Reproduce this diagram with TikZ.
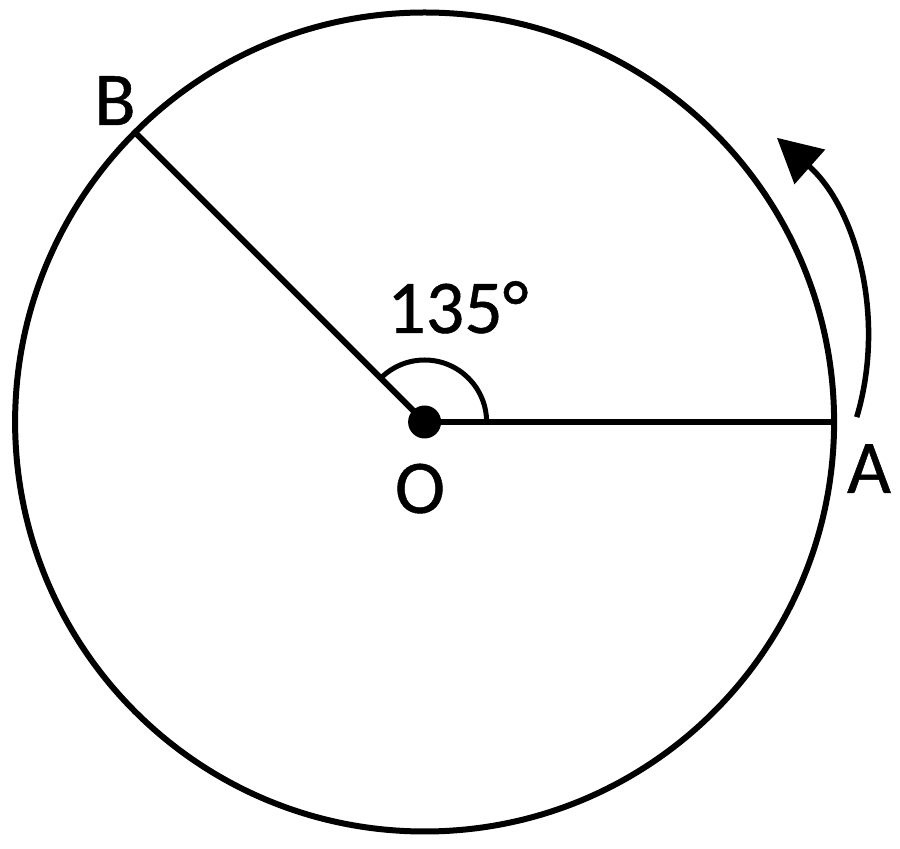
\documentclass[tikz,border=0pt]{standalone}
\usepackage{fontspec}
\setmainfont{Carlito}[FakeBold=0.6]
\usetikzlibrary{arrows.meta,calc}
\begin{document}
\begin{tikzpicture}[x=1pt,y=1pt,
  stroke/.style={line width=6pt},
  lbl/.style={inner sep=0pt,anchor=base,font=\fontsize{76}{90}\selectfont}]
\useasboundingbox (0,0) rectangle (900,849);
\coordinate (O) at (424.6,427);
\coordinate (A) at (834.1,427);
\coordinate (B) at ($(O)+(135:409.5)$);
\draw[stroke] (O) circle[radius=409.5];
\draw[stroke] (O) -- (A);
\draw[stroke] (O) -- (B);
\draw[line width=5pt] ($(O)+(0:62)$) arc[start angle=0,end angle=135,radius=62];
\fill (O) circle[radius=16.5];
\coordinate (arcS) at ($(598,509)+(-16.6:270)$);
\draw[line width=5.5pt,-{Triangle[length=44pt,width=45pt]}] (arcS) arc[start angle=-16.6,end angle=48.5,radius=270];
\node[lbl] (lB) at (115,724) {B};
\node[lbl] (lA) at (869,356) {A};
\node[lbl] (lO) at (420,336) {O};
\node[lbl,anchor=base west] (lang) at (387,516) {135°};
\end{tikzpicture}
\end{document}
